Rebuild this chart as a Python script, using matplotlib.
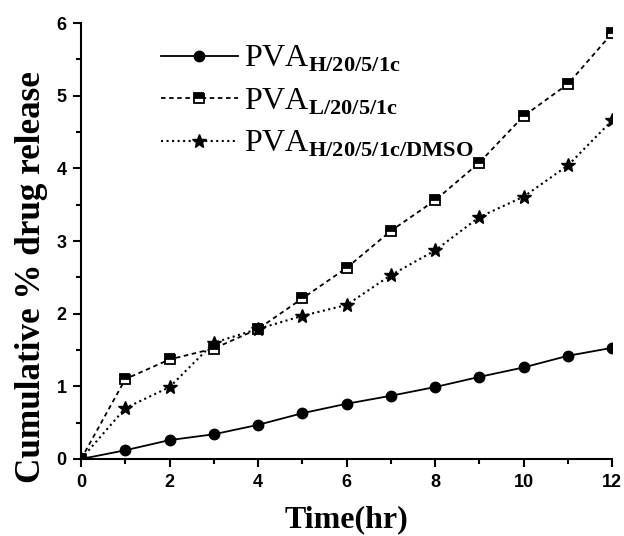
import matplotlib
matplotlib.use('Agg')
import matplotlib.pyplot as plt

# data
hours = [0, 1, 2, 3, 4, 5, 6, 7, 8, 9, 10, 11, 12]
pva_h = [0, 0.12, 0.26, 0.34, 0.47, 0.63, 0.76, 0.87, 0.99, 1.13, 1.26, 1.42, 1.53]
pva_l = [0, 1.10, 1.37, 1.52, 1.79, 2.21, 2.63, 3.14, 3.56, 4.08, 4.72, 5.16, 5.86]
pva_dmso = [0, 0.70, 0.99, 1.60, 1.79, 1.97, 2.12, 2.53, 2.87, 3.33, 3.61, 4.04, 4.66]
labels = [r'PVA$_{\mathbf{H/20/5/1c}}$',
          r'PVA$_{\mathbf{L/20/5/1c}}$',
          r'PVA$_{\mathbf{H/20/5/1c/DMSO}}$']

plt.rcParams['mathtext.fontset'] = 'custom'
plt.rcParams['mathtext.rm'] = 'Liberation Serif'
plt.rcParams['mathtext.bf'] = 'Liberation Serif:bold'

fig = plt.figure(figsize=(6.24, 5.36), dpi=100)
ax = fig.add_axes([0.13, 0.1437, 0.851, 0.8133])

ax.plot(hours, pva_h, '-', color='black', lw=1.3, marker='o', ms=7.5, label=labels[0])
ax.plot(hours, pva_l, '--', color='black', lw=1.3, dashes=(2.5, 2), marker='s', ms=6.5,
        fillstyle='top', markerfacecoloralt='white', mew=1.3, label=labels[1])
ax.plot(hours, pva_dmso, ':', color='black', lw=1.5, marker='*', ms=10, label=labels[2])

ax.set_xlim(0, 12)
ax.set_ylim(0, 6)
ax.set_xticks(range(0, 13, 2))
ax.set_xticks(range(0, 13), minor=True)
ax.set_yticks(range(0, 7))
ax.set_yticks([i + 0.5 for i in range(6)], minor=True)
ax.spines['top'].set_visible(False)
ax.spines['right'].set_visible(False)
for s in ['left', 'bottom']:
    ax.spines[s].set_linewidth(1.5)
ax.tick_params(which='major', direction='out', length=6, width=1.5, pad=4.5)
ax.tick_params(which='minor', direction='out', length=3.5, width=1.5)
for t in ax.get_xticklabels() + ax.get_yticklabels():
    t.set_fontfamily('Liberation Sans')
    t.set_fontweight('bold')
    t.set_fontsize(13)

ax.set_xlabel('Time(hr)', fontfamily='Liberation Serif', fontweight='bold', fontsize=23)
ax.xaxis.set_label_coords(0.5, -0.105)
ax.set_ylabel('Cumulative % drug release', fontfamily='Liberation Serif', fontweight='bold',
              fontsize=25.3)
ax.yaxis.set_label_coords(-0.062, 0.417)

leg = ax.legend(loc='upper left', bbox_to_anchor=(0.096, 1.018), frameon=False,
                prop={'family': 'Liberation Serif', 'size': 23}, handlelength=2.4,
                labelspacing=0.38, handletextpad=0.2)

fig.savefig('out.png', dpi=100)
